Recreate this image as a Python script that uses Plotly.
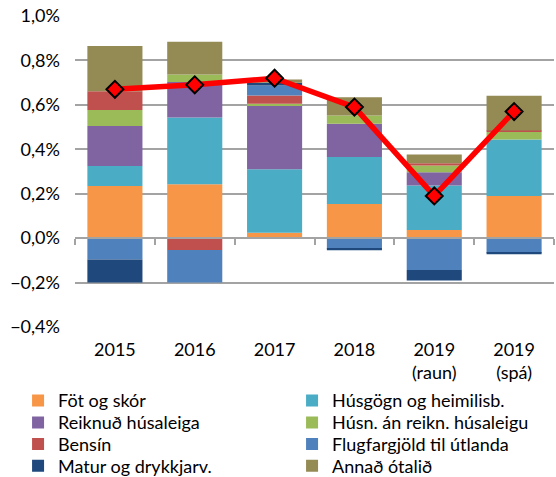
import plotly.graph_objects as go

categories = ["2015", "2016", "2017", "2018", "2019<br>(raun)", "2019<br>(spá)"]

fot_og_skor = [0.235, 0.243, 0.024, 0.154, 0.037, 0.19]
husgogn = [0.09, 0.30, 0.286, 0.211, 0.20, 0.254]
reiknud_husaleiga = [0.18, 0.16, 0.289, 0.15, 0.06, 0.0]
husn_an_reikn = [0.072, 0.034, 0.006, 0.037, 0.03, 0.035]
bensin = [0.084, -0.053, 0.037, 0.0, 0.0105, 0.006]
flugfargjold = [-0.096, -0.147, 0.045, -0.048, -0.143, -0.066]
matur = [-0.104, 0.0, 0.012, -0.006, -0.048, -0.006]
annad = [0.204, 0.147, 0.015, 0.082, 0.039, 0.156]
heild = [0.67, 0.69, 0.72, 0.59, 0.19, 0.57]

series = [
    ("Föt og skór", fot_og_skor, "#F79646"),
    ("Húsgögn og heimilisb.", husgogn, "#4BACC6"),
    ("Reiknuð húsaleiga", reiknud_husaleiga, "#8064A2"),
    ("Húsn. án reikn. húsaleigu", husn_an_reikn, "#9BBB59"),
    ("Bensín", bensin, "#C0504D"),
    ("Flugfargjöld til útlanda", flugfargjold, "#4F81BD"),
    ("Matur og drykkjarv.", matur, "#1F497D"),
    ("Annað ótalið", annad, "#948A54"),
]
legend_ids = ["legend", "legend", "legend2", "legend2",
              "legend3", "legend3", "legend4", "legend4"]

FONT = "Lato"
FS = 18
GRID = "#a3a3a3"
W, H = 556, 477
ML, MR, MT, MB = 75, 1.5, 16, 150
PW = W - ML - MR
PH = H - MT - MB

fig = go.Figure()
for (name, vals, col), lg in zip(series, legend_ids):
    fig.add_trace(go.Bar(
        x=categories, y=vals, name=name, legend=lg,
        marker=dict(color=col, line=dict(width=0)),
        xaxis="x", yaxis="y",
    ))

fig.add_trace(go.Scatter(
    x=categories, y=heild, mode="lines+markers", showlegend=False,
    line=dict(color="#FF0000", width=5.5),
    marker=dict(symbol="diamond", size=13, color="#FF0000",
                line=dict(color="#000000", width=2)),
    xaxis="x2", yaxis="y", name="Samtals",
))

row_centers = [400.7, 422.7, 444.3, 466.0]
leg_left = 18


def leg(yc):
    return dict(
        orientation="h", x=(leg_left - ML) / PW, xanchor="left",
        y=(H - MB - yc) / PH, yanchor="middle", entrywidth=229,
        entrywidthmode="pixels", font=dict(family=FONT, size=FS, color="#000"),
        traceorder="normal", bgcolor="rgba(0,0,0,0)", borderwidth=0,
    )


fig.update_layout(
    width=W, height=H,
    margin=dict(l=ML, r=MR, t=MT, b=MB, autoexpand=False),
    paper_bgcolor="white", plot_bgcolor="white",
    barmode="relative", bargap=0.31,
    separators=",.",
    font=dict(family=FONT, size=FS, color="#000000"),
    xaxis=dict(
        type="category", range=[-0.5, 5.5], showgrid=False, showline=False,
        ticks="", ticklabelstandoff=10, tickfont=dict(size=FS),
    ),
    xaxis2=dict(
        type="category", overlaying="x", anchor="free", position=0.4 / 1.4,
        range=[-0.5, 5.5], showgrid=False, showline=True, linecolor=GRID,
        linewidth=1.5, ticks="outside", tickson="boundaries", ticklen=6,
        tickcolor=GRID, tickwidth=1.5, showticklabels=False,
    ),
    yaxis=dict(
        range=[-0.4, 1.0], dtick=0.2, tick0=0, tickformat=".1f", ticksuffix="%",
        showgrid=True, gridcolor=GRID, gridwidth=1.8, zeroline=False,
        showline=False, ticks="", ticklabelstandoff=14, tickfont=dict(size=FS),
    ),
    legend=leg(row_centers[0]),
    legend2=leg(row_centers[1]),
    legend3=leg(row_centers[2]),
    legend4=leg(row_centers[3]),
)

fig.write_html("out.html")
